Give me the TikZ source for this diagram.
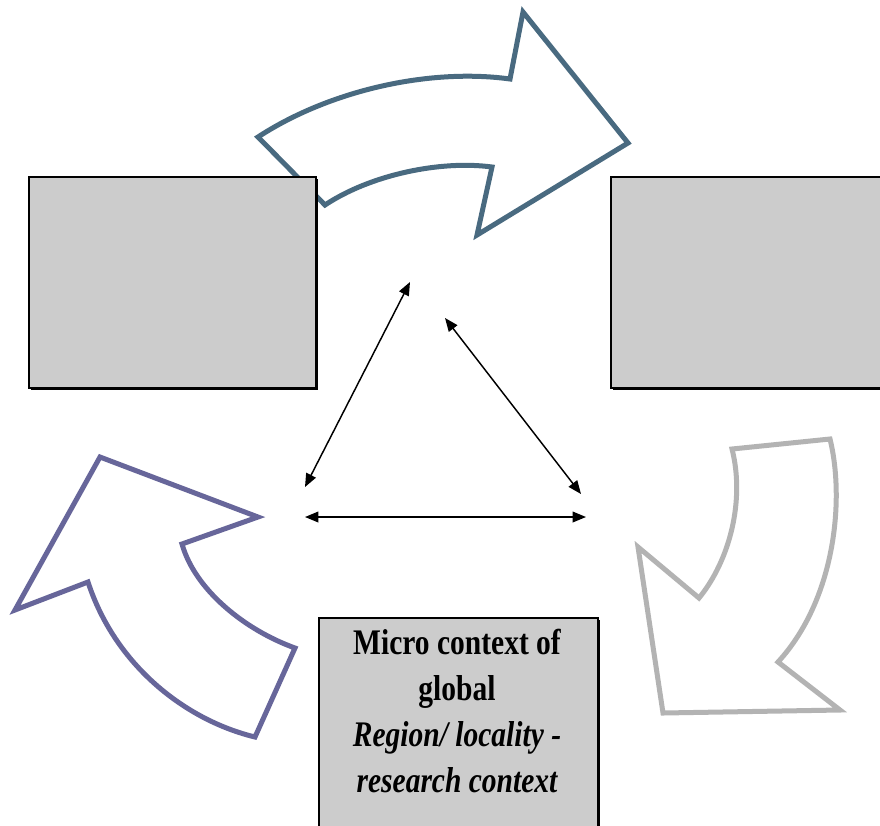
\documentclass[tikz,border=0pt]{standalone}
\usepackage{fontspec}
\newfontfamily\boxfont[FakeStretch=0.82]{Liberation Serif}
\usetikzlibrary{arrows.meta,shadows}
\definecolor{flowblue}{RGB}{73,106,128}
\definecolor{flowpurple}{RGB}{103,102,154}
\definecolor{flowgrey}{RGB}{179,179,179}
\definecolor{boxgrey}{RGB}{204,204,204}

\begin{document}
\begin{tikzpicture}[x=0.75pt, y=-0.75pt, >={Triangle[length=10pt,width=8pt]},
  ctxbox/.style={draw=black, line width=1.6pt, fill=boxgrey, inner sep=0pt,
    general shadow={fill=black, shadow xshift=1.6pt, shadow yshift=-1.6pt}},
  bigarrow/.style={line width=3.75pt, fill=white, line join=miter}]
  \useasboundingbox (0,0) rectangle (880,825);
  \draw[bigarrow, draw=flowblue] (258,137) .. controls (330,90) and (430,68) .. (510,79)
    -- (523,12) -- (628,143) -- (477,235) -- (492,167)
    .. controls (440,160) and (370,175) .. (325,205) -- cycle;
  \draw[bigarrow, draw=flowpurple] (100,457) -- (258,517) -- (182,544)
    .. controls (195,590) and (245,630) .. (295,648) -- (255,737)
    .. controls (185,720) and (115,665) .. (88,582) -- (15,610) -- cycle;
  \draw[bigarrow, draw=flowgrey] (732,449) -- (830,439)
    .. controls (845,500) and (835,600) .. (778,662) -- (840,710) -- (663,713)
    -- (638,547) -- (699,598) .. controls (730,560) and (745,500) .. (732,449) -- cycle;
  \node[ctxbox, minimum width=215pt, minimum height=158pt, anchor=north west] (macro) at (28,176) {};
  \node[ctxbox, minimum width=215pt, minimum height=158pt, anchor=north west] (meso) at (610,176) {};
  \node[ctxbox, minimum width=209pt, minimum height=200pt, anchor=north west] (micro) at (318,617) {};
  \node[font=\boxfont\bfseries\fontsize{27}{34.5}\selectfont, align=center, anchor=base, inner sep=0pt] (microtxt) at (457,792)
    {Micro context of\\global\\\itshape Region/ locality -\\\itshape research context};
  \coordinate (topA) at (410,282);
  \coordinate (topB) at (445,318);
  \coordinate (botL) at (305,487);
  \coordinate (botR) at (581,494);
  \coordinate (baseL) at (305,517);
  \coordinate (baseR) at (586,517);
  \draw[<->, line width=1.1pt] (topA) -- (botL);
  \draw[<->, line width=1.1pt] (topB) -- (botR);
  \draw[<->, line width=1.1pt] (baseL) -- (baseR);
\end{tikzpicture}
\end{document}
